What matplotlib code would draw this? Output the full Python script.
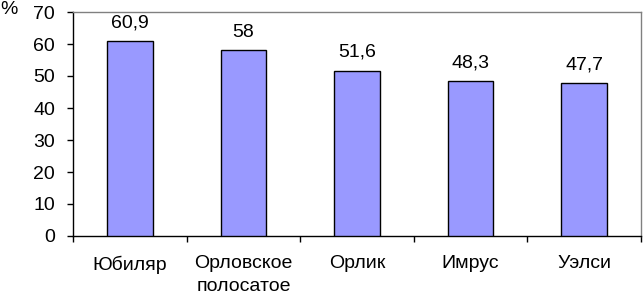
import matplotlib
matplotlib.use("Agg")
import matplotlib.pyplot as plt
import numpy as np

categories = ["Юбиляр", "Орловское\nполосатое", "Орлик", "Имрус", "Уэлси"]
values = [60.9, 58, 51.6, 48.3, 47.7]
value_labels = ["60,9", "58", "51,6", "48,3", "47,7"]
yticks = [0, 10, 20, 30, 40, 50, 60, 70]

plt.rcParams['font.family'] = ['Liberation Sans', 'DejaVu Sans']
FS = 14

fig = plt.figure(figsize=(6.43, 3.01), dpi=100)
ax = fig.add_axes([73/643, 1 - 236/301, (641 - 73)/643, (236 - 12)/301])

x = np.arange(len(categories))
ax.bar(x, values, width=0.4, color='#9999ff', edgecolor='black', linewidth=1.0, zorder=3)

for xi, v, lab in zip(x, values, value_labels):
    ax.annotate(lab, (xi, v), xytext=(0, 10), textcoords='offset points',
                ha='center', va='baseline', fontsize=FS)

ax.set_xlim(-0.5, len(categories) - 0.5)
ax.set_ylim(0, 70)
ax.set_yticks(yticks)
ax.set_yticklabels([str(t) for t in yticks], fontsize=FS)
ax.tick_params(axis='y', direction='out', length=4.5, width=1, color='black', pad=8.5)

# category labels at centers, ticks at boundaries
ax.set_xticks(np.arange(len(categories) + 1) - 0.5)
ax.set_xticklabels([''] * (len(categories) + 1))
ax.tick_params(axis='x', direction='out', length=4, width=1, color='black')
ax.set_xticks(x, minor=True)
ax.set_xticklabels(categories, minor=True, fontsize=FS, linespacing=1.4)
ax.tick_params(axis='x', which='minor', length=0, pad=14)

for s in ['top', 'right']:
    ax.spines[s].set_color('#808080')
    ax.spines[s].set_linewidth(1)
for s in ['left', 'bottom']:
    ax.spines[s].set_color('black')
    ax.spines[s].set_linewidth(1)

fig.text(0/643, 1 - 9/301, '%', fontsize=FS, ha='left', va='center')

fig.savefig('out.png', dpi=100)
